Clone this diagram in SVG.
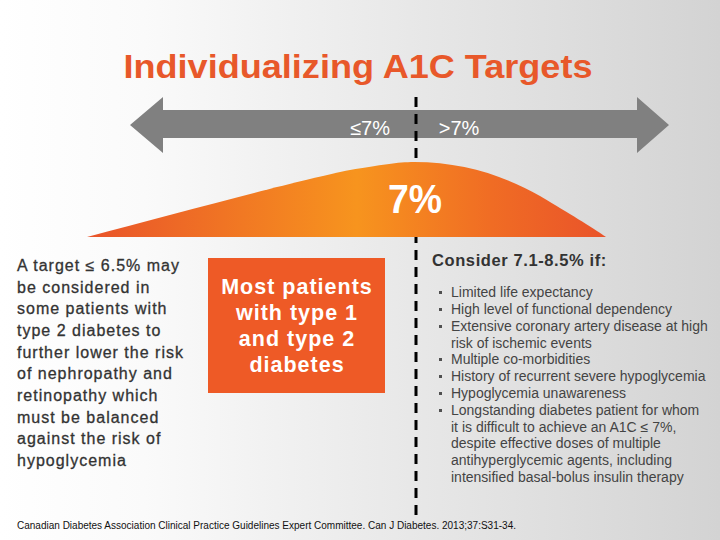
<svg xmlns="http://www.w3.org/2000/svg" width="720" height="540" viewBox="0 0 720 540">
  <defs>
    <linearGradient id="bg" x1="0" y1="0" x2="1" y2="0">
      <stop offset="0" stop-color="#ffffff"/>
      <stop offset="0.2" stop-color="#fafafa"/>
      <stop offset="1" stop-color="#d3d3d3"/>
    </linearGradient>
    <linearGradient id="hump" gradientUnits="userSpaceOnUse" x1="87" y1="0" x2="606" y2="0">
      <stop offset="0" stop-color="#e9532a"/>
      <stop offset="0.52" stop-color="#f7941e"/>
      <stop offset="0.78" stop-color="#f06c24"/>
      <stop offset="1" stop-color="#e9532a"/>
    </linearGradient>
    <style>
      .sans { font-family: "Liberation Sans", Arial, sans-serif; }
      .left { font-size: 16px; fill: #333333; letter-spacing: 1px; stroke: #333333; stroke-width: 0.3px; }
      .box { font-size: 21.5px; font-weight: bold; fill: #ffffff; text-anchor: middle; letter-spacing: 1px; }
      .list { font-size: 14px; fill: #444444; }
      .arrowtxt { font-size: 20px; fill: #ffffff; }
    </style>
  </defs>
  <rect x="0" y="0" width="720" height="540" fill="url(#bg)"/>

  <g id="title">
    <text class="sans" x="358" y="78" text-anchor="middle" font-size="33" font-weight="bold" fill="#e8582a" textLength="469" lengthAdjust="spacingAndGlyphs">Individualizing A1C Targets</text>
  </g>

  <g id="arrow">
    <polygon points="130,125 163,97 163,110 637,110 637,97 669,125 637,153 637,138 163,138 163,153" fill="#808080"/>
    <text class="sans arrowtxt" x="370" y="135" text-anchor="middle">≤7%</text>
    <text class="sans arrowtxt" x="459" y="135" text-anchor="middle">&gt;7%</text>
  </g>

  <g id="connectors">
    <line x1="416" y1="97" x2="416" y2="517" stroke="#000000" stroke-width="3" stroke-dasharray="10,7"/>
  </g>

  <g id="hump-node">
    <path d="M87,237 C180,212 300,180 350,170 C380,165 398,162 414,162 C462,162 503,175 540,196 C570,214 590,226 606,237 Z" fill="url(#hump)"/>
    <text class="sans" x="415" y="213" text-anchor="middle" font-size="41" font-weight="bold" fill="#ffffff" textLength="54" lengthAdjust="spacingAndGlyphs">7%</text>
  </g>

  <g id="left-text">
    <text class="sans left" x="17" y="271">A target ≤ 6.5% may</text>
    <text class="sans left" x="17" y="293">be considered in</text>
    <text class="sans left" x="17" y="314">some patients with</text>
    <text class="sans left" x="17" y="336">type 2 diabetes to</text>
    <text class="sans left" x="17" y="358">further lower the risk</text>
    <text class="sans left" x="17" y="379">of nephropathy and</text>
    <text class="sans left" x="17" y="401">retinopathy which</text>
    <text class="sans left" x="17" y="423">must be balanced</text>
    <text class="sans left" x="17" y="444">against the risk of</text>
    <text class="sans left" x="17" y="466">hypoglycemia</text>
  </g>

  <g id="most-patients">
    <rect x="208" y="258" width="177" height="135" fill="#ee5a26"/>
    <text class="sans box" x="297" y="294">Most patients</text>
    <text class="sans box" x="297" y="320">with type 1</text>
    <text class="sans box" x="297" y="346">and type 2</text>
    <text class="sans box" x="297" y="372">diabetes</text>
  </g>

  <g id="consider">
    <text class="sans" x="432" y="266" font-size="16.5" font-weight="bold" fill="#333333" letter-spacing="0.6">Consider 7.1-8.5% if:</text>
    <g class="sans list">
      <text x="451" y="297">Limited life expectancy</text>
      <text x="451" y="314">High level of functional dependency</text>
      <text x="451" y="331">Extensive coronary artery disease at high</text>
      <text x="451" y="348">risk of ischemic events</text>
      <text x="451" y="364">Multiple co-morbidities</text>
      <text x="451" y="381">History of recurrent severe hypoglycemia</text>
      <text x="451" y="398">Hypoglycemia unawareness</text>
      <text x="451" y="415">Longstanding diabetes patient for whom</text>
      <text x="451" y="432">it is difficult to achieve an A1C ≤ 7%,</text>
      <text x="451" y="448">despite effective doses of multiple</text>
      <text x="451" y="465">antihyperglycemic agents, including</text>
      <text x="451" y="482">intensified basal-bolus insulin therapy</text>
    </g>
    <g fill="#505050">
      <rect x="439" y="291" width="3" height="3"/>
      <rect x="439" y="308" width="3" height="3"/>
      <rect x="439" y="325" width="3" height="3"/>
      <rect x="439" y="358" width="3" height="3"/>
      <rect x="439" y="375" width="3" height="3"/>
      <rect x="439" y="392" width="3" height="3"/>
      <rect x="439" y="409" width="3" height="3"/>
    </g>
  </g>

  <g id="citation">
    <text class="sans" x="17" y="529" font-size="10" fill="#111111" textLength="499" lengthAdjust="spacingAndGlyphs">Canadian Diabetes Association Clinical Practice Guidelines Expert Committee. Can J Diabetes. 2013;37:S31-34.</text>
  </g>
</svg>
